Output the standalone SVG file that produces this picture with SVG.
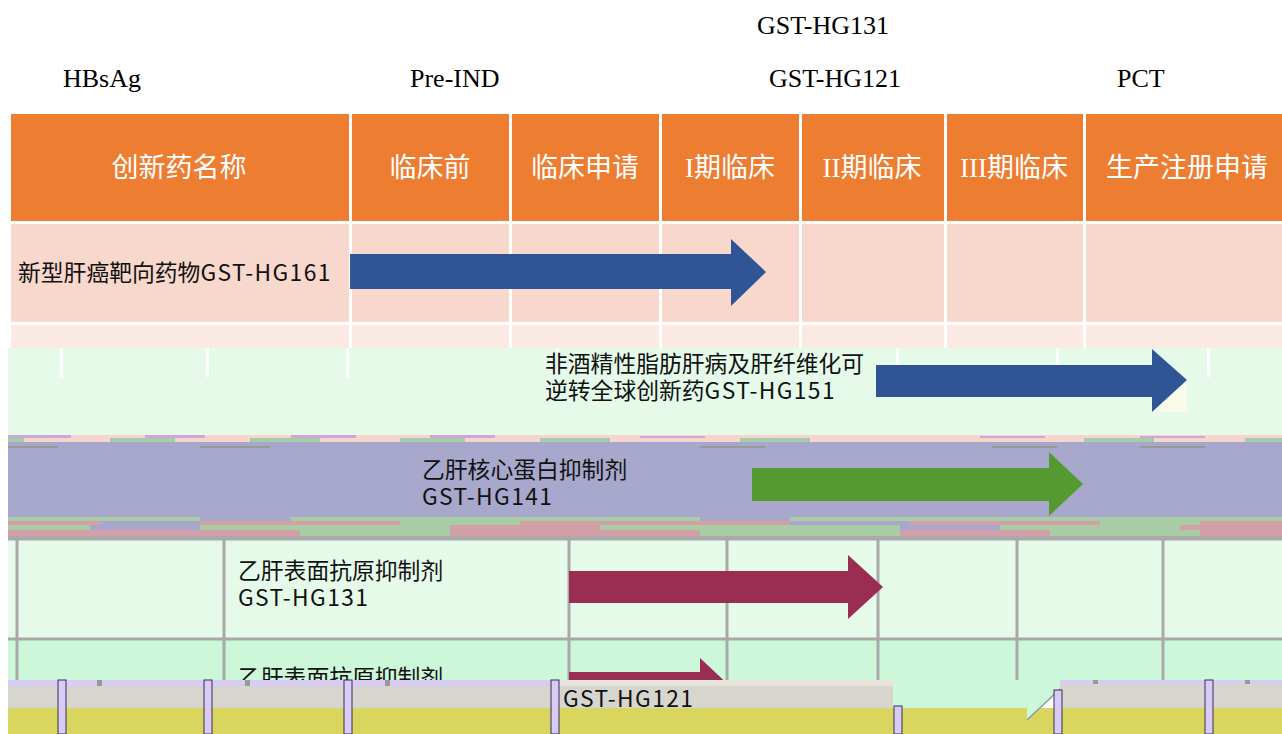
<svg xmlns="http://www.w3.org/2000/svg" width="1282" height="734" viewBox="0 0 1282 734">
<style>
.top{font-family:"Liberation Serif","Times New Roman",serif;font-size:26px;fill:#000}
.hd{font-family:"Noto Sans CJK SC","Microsoft YaHei",sans-serif;font-size:27px;fill:#fff;text-anchor:middle}
.rm{font-family:"Liberation Serif",serif}
.lbl{font-family:"Noto Sans CJK SC","Microsoft YaHei",sans-serif;font-size:22.8px;fill:#111}
.lat{letter-spacing:1.4px}
.wsep{fill:#fff}
.grid{stroke:#a9a9a9;stroke-width:3}
</style>
<rect width="1282" height="734" fill="#fff"/>
<g id="top-labels">
<text class="top" x="757" y="34">GST-HG131</text>
<text class="top" x="63" y="87">HBsAg</text>
<text class="top" x="410" y="87">Pre-IND</text>
<text class="top" x="769" y="87">GST-HG121</text>
<text class="top" x="1117" y="87">PCT</text>
</g>
<g id="header">
<rect x="11" y="114" width="1271" height="107" fill="#ed7d31"/>
<rect class="wsep" x="349" y="114" width="3" height="211"/>
<rect class="wsep" x="509" y="114" width="3" height="211"/>
<rect class="wsep" x="659" y="114" width="3" height="211"/>
<rect class="wsep" x="799" y="114" width="3" height="211"/>
<rect class="wsep" x="944" y="114" width="3" height="211"/>
<rect class="wsep" x="1083" y="114" width="3" height="211"/>
<text class="hd" x="179" y="177">创新药名称</text>
<text class="hd" x="430" y="177">临床前</text>
<text class="hd" x="585" y="177">临床申请</text>
<text class="hd" x="730" y="177"><tspan class="rm">I</tspan>期临床</text>
<text class="hd" x="872" y="177"><tspan class="rm">II</tspan>期临床</text>
<text class="hd" x="1014" y="177"><tspan class="rm">III</tspan>期临床</text>
<text class="hd" x="1187" y="177">生产注册申请</text>
</g>
<g id="row-hg161">
<rect x="11" y="224" width="1271" height="98" fill="#f8d7cc"/>
<rect x="11" y="325" width="1271" height="23" fill="#fbe9e4"/>
<rect class="wsep" x="349" y="224" width="3" height="124"/>
<rect class="wsep" x="509" y="224" width="3" height="124"/>
<rect class="wsep" x="659" y="224" width="3" height="124"/>
<rect class="wsep" x="799" y="224" width="3" height="124"/>
<rect class="wsep" x="944" y="224" width="3" height="124"/>
<rect class="wsep" x="1083" y="224" width="3" height="124"/>
<text class="lbl" x="18" y="281">新型肝癌靶向药物<tspan class="lat">GST-HG161</tspan></text>
</g>
<g id="row-hg151">
<rect x="8" y="348" width="1274" height="87" fill="#e6faea"/>
<rect class="wsep" x="60" y="348" width="3" height="29"/>
<rect class="wsep" x="206" y="348" width="3" height="29"/>
<rect class="wsep" x="346" y="348" width="3" height="29"/>
<rect class="wsep" x="556" y="348" width="3" height="5"/>
<rect class="wsep" x="896" y="348" width="3" height="29"/>
<rect class="wsep" x="1056" y="348" width="3" height="29"/>
<rect class="wsep" x="1207" y="348" width="3" height="29"/>
<rect x="1152" y="375" width="35" height="37" fill="#fafaeb"/>
<text class="lbl"><tspan x="545" y="372">非酒精性脂肪肝病及肝纤维化可</tspan><tspan x="545" y="399">逆转全球创新药<tspan class="lat">GST-HG151</tspan></tspan></text>
</g>
<g id="glitch-1">
<rect x="8" y="435" width="1274" height="3" fill="#f5d5cc"/>
<rect x="8" y="435" width="63" height="3" fill="#cba8d8"/>
<rect x="145" y="435" width="60" height="3" fill="#cba8d8"/>
<rect x="291" y="435" width="65" height="3" fill="#cba8d8"/>
<rect x="430" y="435" width="65" height="3" fill="#cba8d8"/>
<rect x="640" y="436" width="65" height="3" fill="#cba8d8"/>
<rect x="980" y="436" width="65" height="3" fill="#cba8d8"/>
<rect x="1140" y="436" width="65" height="3" fill="#cba8d8"/>
<rect x="8" y="438" width="1274" height="4" fill="#f5d5cc"/>
<rect x="8" y="438" width="16" height="4" fill="#a8cca8"/>
<rect x="110" y="438" width="65" height="4" fill="#a8cca8"/>
<rect x="250" y="438" width="70" height="4" fill="#a8cca8"/>
<rect x="400" y="438" width="65" height="4" fill="#a8cca8"/>
<rect x="540" y="438" width="70" height="4" fill="#a8cca8"/>
<rect x="740" y="438" width="70" height="4" fill="#a8cca8"/>
<rect x="1084" y="438" width="70" height="4" fill="#a8cca8"/>
<rect x="1245" y="438" width="37" height="4" fill="#a8cca8"/>
<rect x="8" y="442" width="1274" height="6" fill="#a7a7cb"/>
<rect x="8" y="446" width="50" height="2" fill="#999"/>
<rect x="200" y="446" width="70" height="2" fill="#999"/>
<rect x="700" y="446" width="65" height="2" fill="#999"/>
<rect x="992" y="446" width="65" height="2" fill="#999"/>
<rect x="1140" y="446" width="65" height="2" fill="#999"/>
</g>
<g id="row-hg141">
<rect x="8" y="448" width="1274" height="70" fill="#a7a8cb"/>
<text class="lbl"><tspan x="422" y="478">乙肝核心蛋白抑制剂</tspan><tspan x="422" y="505" class="lat">GST-HG141</tspan></text>
</g>
<g id="glitch-2">
<rect x="8" y="517" width="1274" height="4" fill="#a8cca4"/>
<rect x="200" y="517" width="90" height="4" fill="#a7a8cb"/>
<rect x="700" y="517" width="90" height="4" fill="#a7a8cb"/>
<rect x="8" y="521" width="1274" height="4" fill="#d4a0a8"/>
<rect x="100" y="521" width="100" height="4" fill="#a7a8cb"/>
<rect x="400" y="521" width="120" height="4" fill="#a8cca4"/>
<rect x="790" y="521" width="120" height="4" fill="#a7a8cb"/>
<rect x="1100" y="521" width="100" height="4" fill="#a8cca4"/>
<rect x="8" y="525" width="1274" height="5" fill="#a8cca4"/>
<rect x="90" y="525" width="110" height="5" fill="#a7a8cb"/>
<rect x="450" y="525" width="150" height="5" fill="#d4a0a8"/>
<rect x="900" y="525" width="100" height="5" fill="#a7a8cb"/>
<rect x="1180" y="525" width="102" height="5" fill="#d4a0a8"/>
<rect x="8" y="530" width="1274" height="6" fill="#d4a0a8"/>
<rect x="300" y="530" width="150" height="6" fill="#a8cca4"/>
<rect x="700" y="530" width="200" height="6" fill="#a8cca4"/>
<rect x="1050" y="530" width="150" height="6" fill="#a8cca4"/>
<rect x="8" y="536" width="1274" height="3" fill="#aaa"/>
</g>
<g id="row-hg131">
<rect x="8" y="539" width="1274" height="100" fill="#e6faea"/>
<rect x="8" y="639" width="1274" height="41" fill="#ccf7d9"/>
<line class="grid" x1="8" y1="539" x2="1282" y2="539"/>
<line class="grid" x1="8" y1="639" x2="1282" y2="639"/>
<line class="grid" x1="17" y1="539" x2="17" y2="680"/>
<line class="grid" x1="224" y1="539" x2="224" y2="680"/>
<line class="grid" x1="569" y1="539" x2="569" y2="680"/>
<line class="grid" x1="727" y1="539" x2="727" y2="680"/>
<line class="grid" x1="878" y1="539" x2="878" y2="680"/>
<line class="grid" x1="1017" y1="539" x2="1017" y2="680"/>
<line class="grid" x1="1163" y1="539" x2="1163" y2="680"/>
<text class="lbl"><tspan x="238" y="579">乙肝表面抗原抑制剂</tspan><tspan x="238" y="606" class="lat">GST-HG131</tspan></text>
</g>
<g id="arrows">
<polygon points="350,254 731,254 731,239 766,272 731,306 731,289 350,289" fill="#2f5597"/>
<polygon points="876,365 1152,365 1152,349 1187,380 1152,412 1152,397 876,397" fill="#2f5597"/>
<polygon points="752,468 1049,468 1049,452 1083,484 1049,516 1049,501 752,501" fill="#559a31"/>
<polygon points="569,571 848,571 848,555 883,587 848,619 848,603 569,603" fill="#9a2d52"/>
<polygon points="569,672 700,672 700,658 734,690 700,722 700,705 569,705" fill="#9a2d52"/>
</g>
<g id="row-hg121">
<clipPath id="cut"><rect x="0" y="600" width="1282" height="80"/><rect x="560" y="686" width="330" height="48"/></clipPath>
<g id="bottom-band">
<rect x="8" y="680" width="543" height="6" fill="#d8ccf4"/>
<rect x="8" y="686" width="885" height="22" fill="#d6d6ce"/>
<rect x="8" y="708" width="1274" height="26" fill="#d8d65e"/>
<rect x="893" y="680" width="134" height="28" fill="#ccf7d9"/>
<polygon points="1027,708 1060,688 1060,680 1027,680" fill="#ccf7d9"/>
<polygon points="1027,708 1027,720 1060,690 1060,688" fill="#ccf7d9"/>
<line x1="1027" y1="720" x2="1060" y2="689" stroke="#8a9aa0" stroke-width="1.5"/>
<rect x="1060" y="680" width="222" height="4" fill="#d8ccf4"/>
<rect x="1060" y="684" width="222" height="24" fill="#d6d6ce"/>
<rect x="551" y="680" width="342" height="6" fill="#e8e4dc"/>
<g fill="#d8ccf4" stroke="#3a2a5a" stroke-width="1">
<rect x="58" y="680" width="8" height="54"/>
<rect x="204" y="680" width="8" height="54"/>
<rect x="344" y="680" width="8" height="54"/>
<rect x="551" y="680" width="8" height="54"/>
<rect x="894" y="706" width="8" height="28"/>
<rect x="1054" y="690" width="8" height="44"/>
<rect x="1205" y="680" width="8" height="54"/>
</g>
<g fill="#999">
<rect x="97" y="680" width="5" height="6"/>
<rect x="245" y="680" width="5" height="6"/>
<rect x="385" y="680" width="5" height="6"/>
<rect x="1093" y="680" width="5" height="4"/>
<rect x="1245" y="680" width="5" height="4"/>
</g>
</g>
<text class="lbl" clip-path="url(#cut)"><tspan x="238" y="686">乙肝表面抗原抑制剂</tspan><tspan x="563" y="707" class="lat">GST-HG121</tspan></text>
</g>
</svg>
